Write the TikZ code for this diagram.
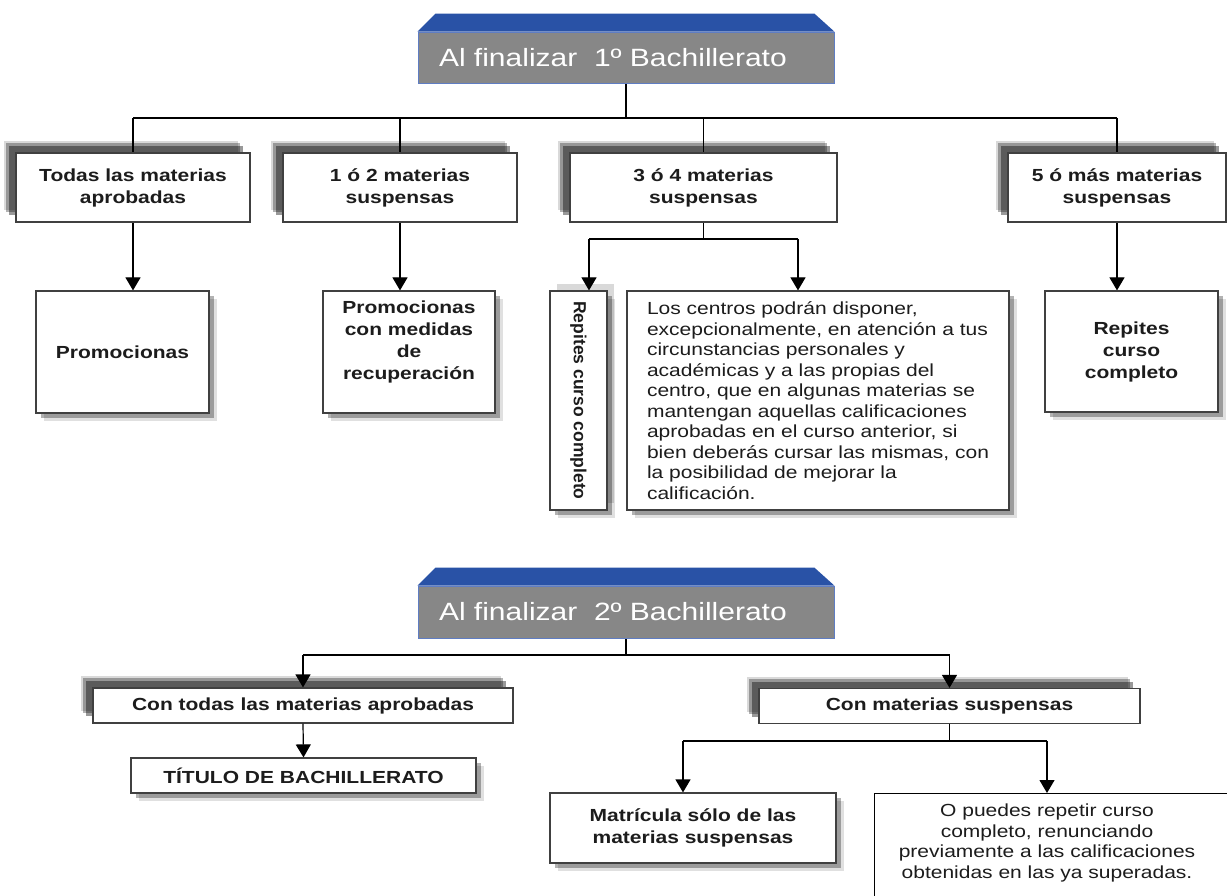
\documentclass[tikz,border=0pt]{standalone}
\usepackage{fontspec}
\setmainfont{Liberation Sans}[FakeStretch=1.2]
\newfontfamily\uprightsans{Liberation Sans}
\usetikzlibrary{arrows.meta,calc,shadows,backgrounds,positioning}
\definecolor{capblue}{RGB}{41,82,166}
\definecolor{capgray}{RGB}{135,135,135}
\definecolor{capedge}{RGB}{95,125,195}
\definecolor{boxedge}{RGB}{64,64,64}
\definecolor{ink}{RGB}{28,28,28}

\begin{document}
\begin{tikzpicture}[
        x=1pt,
        y=-1pt,
        wire/.style={line width=1.2pt},
        arr/.style={wire, -{Triangle[width=15pt,length=13pt]}},
        caption/.style={draw=capedge, line width=0.8pt, fill=capgray, text=white, minimum width=416pt, inner xsep=21pt, text width=374pt, align=left, font=\fontsize{25}{30}\selectfont},
        upshadow/.style={drop shadow={shadow xshift=-12pt, shadow yshift=12pt, fill=black, opacity=.15}, drop shadow={shadow xshift=-10pt, shadow yshift=10pt, fill=black, opacity=.3}, drop shadow={shadow xshift=-7pt, shadow yshift=7pt, fill=black, opacity=.4}},
        downshadow/.style={drop shadow={shadow xshift=8pt, shadow yshift=-8pt, fill=black, opacity=.12}, drop shadow={shadow xshift=5pt, shadow yshift=-5pt, fill=black, opacity=.3}},
        lvlone/.style={draw=boxedge, line width=1.2pt, fill=white, text=ink, align=center, upshadow, font=\bfseries\fontsize{17.5}{22}\selectfont},
        leaf/.style={draw=boxedge, line width=1.2pt, fill=white, text=ink, align=center, downshadow, font=\bfseries\fontsize{17.5}{22}\selectfont},
        body/.style={font=\fontsize{17.5}{20.5}\selectfont}
    ]
        \useasboundingbox (0,0) rectangle (1227,896);
        \clip (0,0) rectangle (1227,896);

        \node[caption, minimum height=51pt] (t1) at (626,57.5) {Al finalizar~~1º Bachillerato};
        \fill[capblue] (t1.north west) -- ++(18,-18) -- ($(t1.north east)+(-20,-18)$) -- (t1.north east) -- cycle;

        \node[lvlone, minimum width=234pt, minimum height=69pt] (b1) at (133,187.5) {Todas las materias\\aprobadas};
        \node[lvlone, minimum width=234pt, minimum height=69pt] (b2) at (400,187.5) {1 ó 2 materias\\suspensas};
        \node[lvlone, minimum width=267pt, minimum height=69pt] (b3) at (703.5,187.5) {3 ó 4 materias\\suspensas};
        \node[lvlone, minimum width=218pt, minimum height=69pt] (b4) at (1117,187.5) {5 ó más materias\\suspensas};

        \node[leaf, minimum width=173pt, minimum height=122pt] (p1) at (122.5,352) {Promocionas};
        \node[leaf, minimum width=172pt, minimum height=122pt, text depth=24pt] (p2) at (409,352) {Promocionas\\con medidas\\de\\recuperación};
        \node[leaf, rotate=-90, minimum width=219pt, minimum height=57pt, font=\uprightsans\bfseries\fontsize{17.5}{21}\selectfont,
              drop shadow={shadow xshift=7pt, shadow yshift=7pt, fill=black, opacity=.15}] (rv) at (578.5,400.5) {Repites curso completo};
        \node[leaf, body, align=left, minimum width=382pt, minimum height=219pt] (tx) at (818,400.5) {Los centros podrán disponer,\\excepcionalmente, en atención a tus\\circunstancias personales y\\académicas y a las propias del\\centro, que en algunas materias se\\mantengan aquellas calificaciones\\aprobadas en el curso anterior, si\\bien deberás cursar las mismas, con\\la posibilidad de mejorar la\\calificación.};
        \node[leaf, minimum width=173pt, minimum height=121pt] (r4) at (1131.5,351.5) {Repites\\curso\\completo};

        \node[caption, minimum height=52pt] (t2) at (626,612) {Al finalizar~~2º Bachillerato};
        \fill[capblue] (t2.north west) -- ++(18,-18) -- ($(t2.north east)+(-20,-18)$) -- (t2.north east) -- cycle;

        \node[lvlone, minimum width=420pt, minimum height=35pt] (c1) at (303,705.5) {Con todas las materias aprobadas};
        \node[lvlone, minimum width=381pt, minimum height=35pt] (c2) at (949.5,706) {Con materias suspensas};
        \node[leaf, minimum width=345pt, minimum height=35pt] (ti) at (303.5,775.5) {TÍTULO DE BACHILLERATO};
        \node[leaf, minimum width=286pt, minimum height=70pt] (ma) at (693,828) {Matrícula sólo de las\\materias suspensas};
        \node[draw=black, fill=white, line width=1.2pt, anchor=north west, minimum width=380pt, minimum height=130pt] (op) at (874,793) {};
        \node[body, align=center, text=ink] (optext) at (1047,843) {O puedes repetir curso\\completo, renunciando\\previamente a las calificaciones\\obtenidas en las ya superadas.};

        \coordinate (bar1) at (0,118);
        \coordinate (k1) at (589,239);
        \coordinate (k2) at (798,239);
        \coordinate (bar3) at (0,655);
        \coordinate (k3) at (683,741);
        \coordinate (k4) at (1047,741);

        \begin{scope}[on background layer]
            \draw[wire] (t1.south) -- (t1.south |- bar1);
            \draw[wire] (b1.north |- bar1) -- (b4.north |- bar1);
            \foreach \n in {b1,b2,b3,b4}{
                \draw[wire] (\n.north |- bar1) -- (\n.north);
            }
            \draw[arr] (b1.south) -- (b1.south |- p1.north);
            \draw[arr] (b2.south) -- (b2.south |- p2.north);
            \draw[wire] (b3.south) -- (b3.south |- k1);
            \draw[wire] (k1) -- (k2);
            \draw[arr] (k1) -- (k1 |- tx.north);
            \draw[arr] (k2) -- (k2 |- tx.north);
            \draw[arr] (b4.south) -- (b4.south |- r4.north);

            \draw[wire] (t2.south) -- (t2.south |- bar3);
            \draw[wire] (c1.north |- bar3) -- (c2.north |- bar3);
            \draw[wire] (c2.south) -- (c2.south |- k3);
            \draw[wire] (k3) -- (k4);
            \draw[arr] (k3) -- (k3 |- ma.north);
            \draw[arr] (k4) -- (k4 |- op.north);
        \end{scope}
        \draw[arr] (c1.north |- bar3) -- (c1.north);
        \draw[arr] (c2.north |- bar3) -- (c2.north);
        \draw[arr] (c1.south) -- (ti.north);
    \end{tikzpicture}
\end{document}
